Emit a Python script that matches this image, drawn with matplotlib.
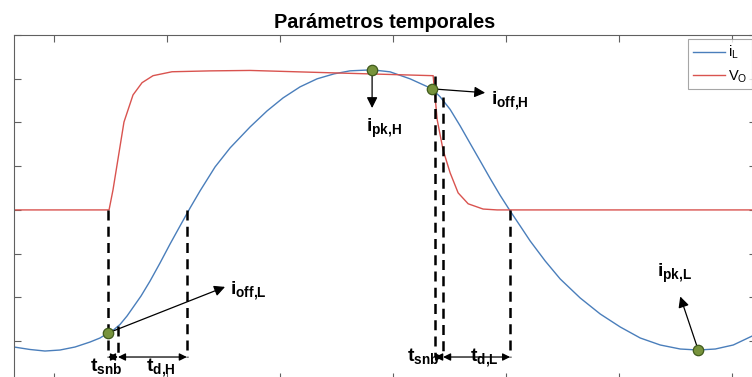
import numpy as np
import matplotlib
matplotlib.use("Agg")
import matplotlib.pyplot as plt

plt.rcParams['font.family'] = ['Liberation Sans', 'DejaVu Sans']
plt.rcParams['mathtext.fontset'] = 'custom'
plt.rcParams['mathtext.rm'] = 'Liberation Sans'
plt.rcParams['mathtext.bf'] = 'Liberation Sans:bold'

# inductor current i_L
t_il = [-0.354, -0.212, -0.080, 0.053, 0.186, 0.319, 0.407, 0.478, 0.531, 0.584,
        0.646, 0.708, 0.770, 0.850, 0.938, 1.027, 1.115, 1.204, 1.292, 1.425,
        1.558, 1.735, 1.885, 2.027, 2.177, 2.327, 2.478, 2.619, 2.814, 2.973,
        3.150, 3.345, 3.416, 3.504, 3.593, 3.681, 3.770, 3.858, 3.947, 4.035,
        4.124, 4.212, 4.345, 4.478, 4.655, 4.832, 5.009, 5.186, 5.363, 5.540,
        5.699, 5.850, 6.009, 6.177, 6.248]
il = [-3.135, -3.192, -3.227, -3.204, -3.135, -3.021, -2.929, -2.815, -2.735, -2.620,
      -2.426, -2.197, -1.968, -1.625, -1.213, -0.778, -0.366, 0.046, 0.435, 0.984,
      1.419, 1.899, 2.265, 2.563, 2.815, 2.998, 3.112, 3.181, 3.204, 3.158,
      2.998, 2.769, 2.586, 2.300, 1.922, 1.522, 1.121, 0.721, 0.332, -0.023,
      -0.366, -0.709, -1.167, -1.579, -2.014, -2.380, -2.677, -2.929, -3.089, -3.181,
      -3.204, -3.181, -3.089, -2.883, -2.780]

# output voltage V_O
t_vo = [-0.354, 0.487, 0.522, 0.619, 0.699, 0.779, 0.876, 1.044, 1.381, 1.735,
        2.531, 3.354, 3.390, 3.442, 3.504, 3.575, 3.664, 3.796, 3.920, 6.248]
vo = [0.0, 0.0, 0.46, 2.01, 2.63, 2.91, 3.07, 3.16, 3.18, 3.19,
      3.13, 3.07, 2.06, 1.37, 0.85, 0.39, 0.14, 0.02, 0.0, 0.0]

# marked points: i_off,L  i_pk,H  i_off,H  i_pk,L
pt_t = [0.478, 2.814, 3.345, 5.699]
pt_i = [-2.815, 3.204, 2.769, -3.204]
pt_names = ['off{,}L', 'pk{,}H', 'off{,}H', 'pk{,}L']

# switching instants used for the time intervals
t_on = [0.478, 0.566, 1.175]     # V_O rise, end of snubber, i_L = 0
t_off = [3.372, 3.442, 4.035]    # V_O fall, end of snubber, i_L = 0

blue = '#4a7ebb'
red = '#d9534f'

fig = plt.figure(figsize=(7.52, 3.77), dpi=100)
ax = fig.add_axes([0.0186, -0.008, 0.9867, 0.9151])

ax.plot(t_il, il, color=blue, lw=1.0, label=r'$\mathregular{i_L}$')
ax.plot(t_vo, vo, color=red, lw=1.0, label=r'$\mathregular{V_O}$')

ax.set_xlim(-0.354, 6.21)
ax.set_ylim(-3.89, 4.0)
ax.set_xticks(np.arange(0, 7))
ax.set_yticks(np.arange(-3, 5))
ax.tick_params(direction='in', length=5, width=0.8, colors='#606060',
               top=True, right=True, labelbottom=False, labelleft=False)
for s in ax.spines.values():
    s.set_color('#606060')
    s.set_linewidth(0.8)

ax.set_title('Parámetros temporales', fontsize=14.3, fontweight='bold', pad=5)

leg = ax.legend(loc='upper right', fontsize=10.5, frameon=True, fancybox=False,
                handlelength=2.2, handletextpad=0.2, borderpad=0.3,
                labelspacing=0.5, borderaxespad=0.3)
leg.get_frame().set_edgecolor('#909090')
leg.get_frame().set_linewidth(0.8)

# dashed guides down to the interval arrows
y_arr = -3.364
dash = dict(color='black', lw=1.8, ls=(0, (4, 2.5)))
ax.plot([t_on[0], t_on[0]], [0.0, y_arr], **dash)
ax.plot([t_on[1], t_on[1]], [-2.65, y_arr], **dash)
ax.plot([t_on[2], t_on[2]], [0.0, y_arr], **dash)
ax.plot([t_off[0], t_off[0]], [3.07, y_arr], **dash)
ax.plot([t_off[1], t_off[1]], [2.59, y_arr], **dash)
ax.plot([t_off[2], t_off[2]], [0.0, y_arr], **dash)

# interval arrows
dbl = dict(arrowstyle='<|-|>', color='black', lw=0.9, mutation_scale=11,
           shrinkA=0, shrinkB=0)
for tt in (t_on, t_off):
    ax.annotate('', xy=(tt[0], y_arr), xytext=(tt[1], y_arr), arrowprops=dbl)
    ax.annotate('', xy=(tt[1], y_arr), xytext=(tt[2], y_arr), arrowprops=dbl)

lab = dict(fontsize=14, ha='left', va='baseline')
ax.text(0.319, -3.71, r'$\mathbf{t}_{\mathbf{snb}}$', **lab)
ax.text(0.814, -3.71, r'$\mathbf{t}_{\mathbf{d{,}H}}$', **lab)
ax.text(3.124, -3.48, r'$\mathbf{t}_{\mathbf{snb}}$', **lab)
ax.text(3.681, -3.48, r'$\mathbf{t}_{\mathbf{d{,}L}}$', **lab)

# arrows from the marked current values to their labels
arrow_tip = [(1.513, -1.76), (2.814, 2.33), (3.814, 2.68), (5.54, -1.98)]
label_pos = [(1.558, -1.945), (2.761, 1.785), (3.867, 2.40), (5.336, -1.533)]
one = dict(arrowstyle='-|>', color='black', lw=0.9, mutation_scale=16,
           shrinkA=0, shrinkB=0)
for x0, y0, tip, lp, nm in zip(pt_t, pt_i, arrow_tip, label_pos, pt_names):
    ax.annotate('', xy=tip, xytext=(x0, y0), arrowprops=one)
    ax.text(lp[0], lp[1], r'$\mathbf{i}_{\mathbf{' + nm + '}}$', **lab)

ax.plot(pt_t, pt_i, 'o', ms=7.5, mfc='#77933c', mec='#3f5a1c', mew=0.9, zorder=5)

fig.savefig('out.png', dpi=100)
